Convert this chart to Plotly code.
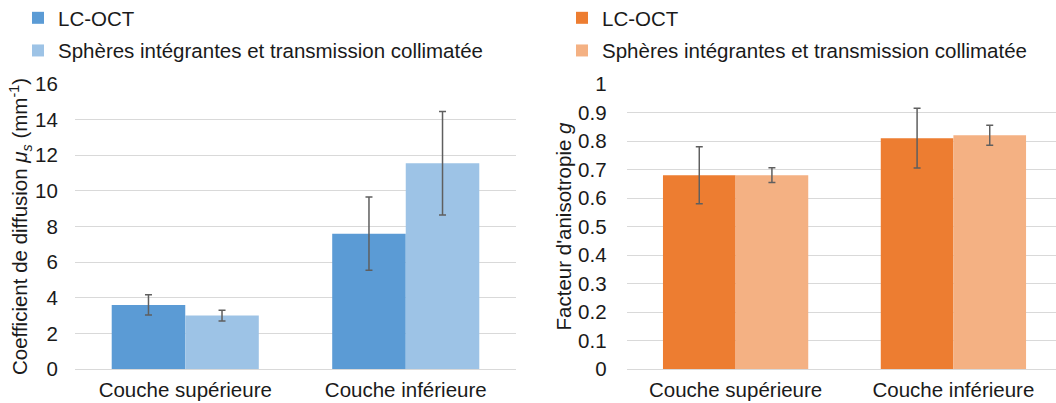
import plotly.graph_objects as go

categories = ["Couche supérieure", "Couche inférieure"]
series_names = ["LC-OCT", "Sphères intégrantes et transmission collimatée"]

# Left chart: scattering coefficient mu_s (mm^-1)
mus_lcoct = [3.6, 7.6]
mus_lcoct_err = [0.57, 2.05]
mus_spheres = [3.0, 11.55]
mus_spheres_err = [0.3, 2.9]

# Right chart: anisotropy factor g
g_lcoct = [0.68, 0.81]
g_lcoct_err = [0.10, 0.105]
g_spheres = [0.68, 0.82]
g_spheres_err = [0.026, 0.035]

left_ticks = [0, 2, 4, 6, 8, 10, 12, 14, 16]
right_ticks = [0, 0.1, 0.2, 0.3, 0.4, 0.5, 0.6, 0.7, 0.8, 0.9, 1]
right_ticktext = ["0", "0.1", "0.2", "0.3", "0.4", "0.5", "0.6", "0.7", "0.8", "0.9", "1"]

FONT = "Arial, Liberation Sans, sans-serif"
FS = 20.5
TXT = "#1a1a1a"
ERRC = "#5f5f5f"
GRID = "#D9D9D9"

def err(vals):
    return dict(type="data", array=vals, visible=True, color=ERRC, thickness=1.5, width=3.5)

fig = go.Figure()
fig.add_trace(go.Bar(x=categories, y=mus_lcoct, name=series_names[0], marker_color="#5B9BD5",
                     error_y=err(mus_lcoct_err), xaxis="x", yaxis="y", legend="legend", legendgroup="a"))
fig.add_trace(go.Bar(x=categories, y=mus_spheres, name=series_names[1], marker_color="#9DC3E6",
                     error_y=err(mus_spheres_err), xaxis="x", yaxis="y", legend="legend", legendgroup="b"))
fig.add_trace(go.Bar(x=categories, y=g_lcoct, name=series_names[0], marker_color="#ED7D31",
                     error_y=err(g_lcoct_err), xaxis="x2", yaxis="y2", legend="legend2", legendgroup="c"))
fig.add_trace(go.Bar(x=categories, y=g_spheres, name=series_names[1], marker_color="#F4B183",
                     error_y=err(g_spheres_err), xaxis="x2", yaxis="y2", legend="legend2", legendgroup="d"))

for tr in fig.data:
    tr.marker.line.width = 0

ydom = [34 / 403, 319 / 403]
legend_common = dict(font=dict(family=FONT, size=FS, color=TXT), bgcolor="rgba(0,0,0,0)",
                     orientation="v", yanchor="top", xanchor="left", itemwidth=30,
                     traceorder="grouped", tracegroupgap=3)

fig.update_layout(
    width=1056, height=403,
    margin=dict(l=0, r=0, t=0, b=0, autoexpand=False),
    paper_bgcolor="white", plot_bgcolor="white",
    font=dict(family=FONT, size=FS, color=TXT),
    barmode="group", bargap=0.333, bargroupgap=0,
    showlegend=True,
    legend=dict(x=18 / 1056, y=1.005, **legend_common),
    legend2=dict(x=562 / 1056, y=1.005, **legend_common),
    xaxis=dict(domain=[75 / 1056, 516 / 1056], anchor="y", range=[-0.5, 1.5], automargin=False,
               showline=True, linecolor=GRID, linewidth=1,
               ticks="outside", ticklen=2, tickcolor="rgba(0,0,0,0)",
               tickfont=dict(family=FONT, size=FS, color=TXT)),
    yaxis=dict(domain=ydom, anchor="x", range=[0, 16], tickvals=left_ticks, automargin=False,
               showgrid=True, gridcolor=GRID, gridwidth=1, zeroline=False, showline=False,
               ticks="outside", ticklen=12, tickcolor="rgba(0,0,0,0)",
               tickfont=dict(family=FONT, size=FS, color=TXT),
               title=dict(text="Coefficient de diffusion <i>μ<sub>s</sub></i> (mm<sup>-1</sup>)",
                          font=dict(family=FONT, size=FS, color=TXT), standoff=1)),
    xaxis2=dict(domain=[626.7 / 1056, 1.0], anchor="y2", range=[-0.5, 1.471], automargin=False,
                showline=True, linecolor=GRID, linewidth=1,
                ticks="outside", ticklen=2, tickcolor="rgba(0,0,0,0)",
                tickfont=dict(family=FONT, size=FS, color=TXT)),
    yaxis2=dict(domain=ydom, anchor="x2", range=[0, 1], tickvals=right_ticks, ticktext=right_ticktext,
                automargin=False,
                showgrid=True, gridcolor=GRID, gridwidth=1, zeroline=False, showline=False,
                ticks="outside", ticklen=15, tickcolor="rgba(0,0,0,0)",
                tickfont=dict(family=FONT, size=FS, color=TXT),
                title=dict(text="Facteur d'anisotropie <i>g</i>",
                           font=dict(family=FONT, size=FS, color=TXT), standoff=0)),
)

fig.write_html("out.html", config={"displayModeBar": False},
               post_script="document.body.style.margin='0';")
